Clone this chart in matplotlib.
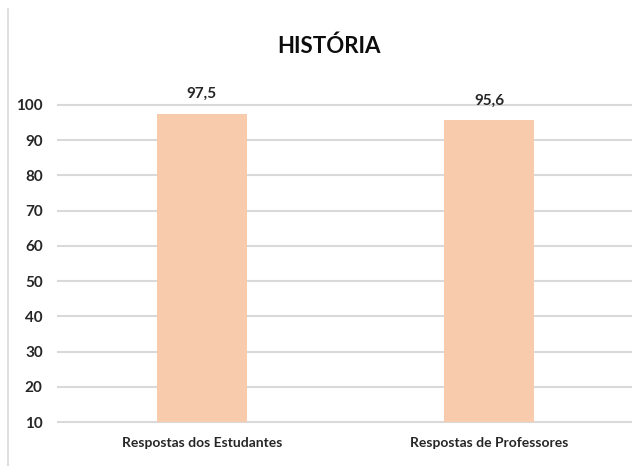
import matplotlib.pyplot as plt
from matplotlib.lines import Line2D

categories = ['Respostas dos Estudantes', 'Respostas de Professores']
values = [97.5, 95.6]
value_labels = ['97,5', '95,6']
yticks = [10, 20, 30, 40, 50, 60, 70, 80, 90, 100]

plt.rcParams['font.family'] = ['Lato', 'DejaVu Sans']
plt.rcParams['font.weight'] = 'bold'

fig = plt.figure(figsize=(6.32, 4.66), dpi=100)
ax = fig.add_axes([0.0918, 0.094, 0.91, 0.681])

x = range(len(categories))
bars = ax.bar(x, values, width=0.313, color='#F8CBAD', zorder=2)

for b, lab in zip(bars, value_labels):
    ax.annotate(lab, (b.get_x() + b.get_width() / 2, b.get_height()),
                xytext=(0, 9), textcoords='offset points',
                ha='center', va='bottom', fontsize=11, fontweight='bold', color='#262626')

ax.set_ylim(10, 100)
ax.set_xlim(-0.5, 1.5)
ax.set_yticks(yticks)
ax.set_xticks(list(x))
ax.set_xticklabels(categories, fontsize=10, fontweight='bold', color='#262626')
ax.tick_params(axis='y', labelsize=11, colors='#262626', length=0, pad=11)
ax.tick_params(axis='x', length=0, pad=11)
ax.yaxis.grid(True, color='#D9D9D9', linewidth=1.5, zorder=0)
for gl in ax.get_ygridlines():
    gl.set_clip_on(False)
for s in ax.spines.values():
    s.set_visible(False)
ax.set_axisbelow(True)

fig.text(0.521, 0.9, 'HISTÓRIA', ha='center', va='center', fontsize=16, fontweight='bold', color='#0D0D0D')
fig.add_artist(Line2D([0.012, 0.012], [0.0, 0.98], color='#D9D9D9', linewidth=1.2, transform=fig.transFigure))

plt.savefig('out.png', dpi=100)
